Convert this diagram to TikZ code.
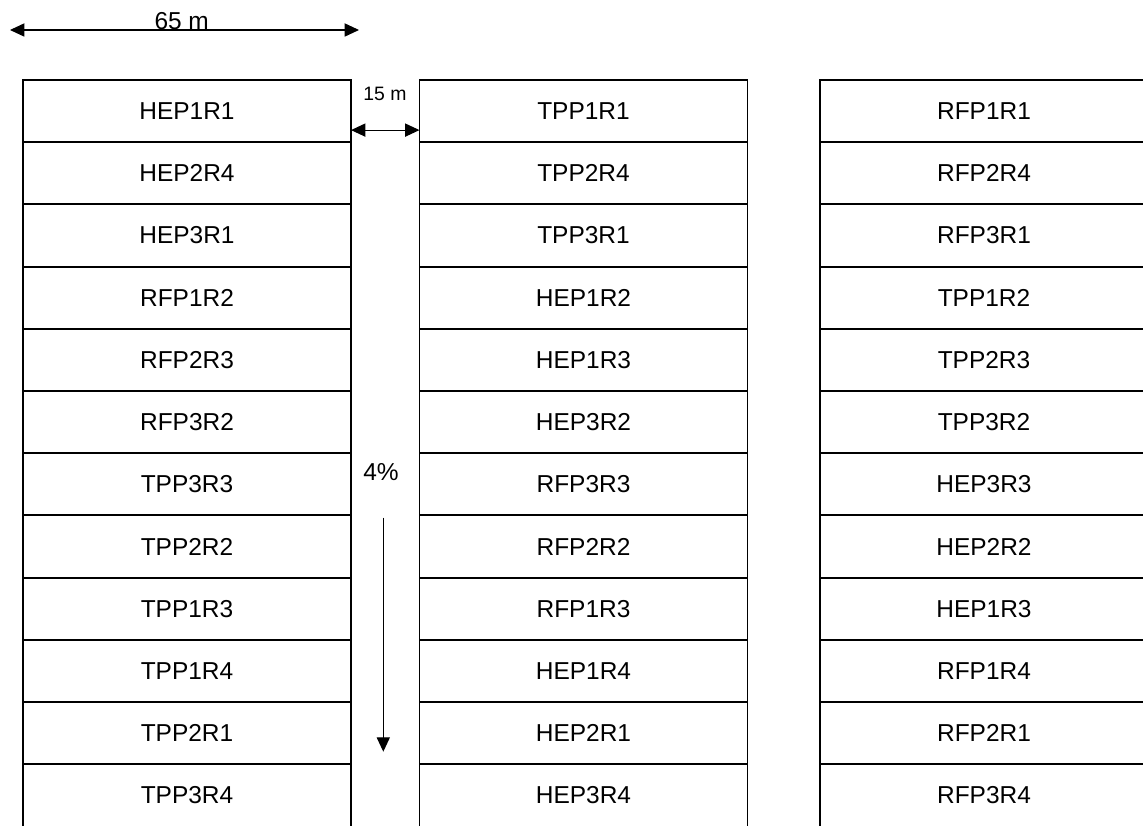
\documentclass[tikz,border=0pt]{standalone}
\usepackage{fontspec}
\setmainfont{Liberation Sans}
\usetikzlibrary{arrows.meta,calc}

\tikzset{
  cell/.style={draw,line width=1.3pt,minimum width=8.2cm,minimum height=1.555cm,inner sep=0pt,outer sep=0pt,font=\fontsize{17.4}{20}\selectfont},
  lbl/.style={inner sep=0pt,font=\fontsize{17.4}{20}\selectfont},
  dim/.style={line width=0.8pt,{Triangle[length=0.36cm,width=0.33cm]}-{Triangle[length=0.36cm,width=0.33cm]}},
  fall/.style={line width=0.8pt,-{Triangle[length=0.36cm,width=0.33cm]}}
}

\begin{document}
\begin{tikzpicture}[x=0.025cm,y=-0.025cm]
\clip (0,0) rectangle (1143,826);

\foreach \name [count=\r] in {HEP1R1,HEP2R4,HEP3R1,RFP1R2,RFP2R3,RFP3R2,TPP3R3,TPP2R2,TPP1R3,TPP1R4,TPP2R1,TPP3R4}
  \node [cell] (a\r) at (187,{48.9+62.2*\r}) {\name};
\foreach \name [count=\r] in {TPP1R1,TPP2R4,TPP3R1,HEP1R2,HEP1R3,HEP3R2,RFP3R3,RFP2R2,RFP1R3,HEP1R4,HEP2R1,HEP3R4}
  \node [cell] (b\r) at (583.5,{48.9+62.2*\r}) {\name};
\foreach \name [count=\r] in {RFP1R1,RFP2R4,RFP3R1,TPP1R2,TPP2R3,TPP3R2,HEP3R3,HEP2R2,HEP1R3,RFP1R4,RFP2R1,RFP3R4}
  \node [cell] (c\r) at (984,{48.9+62.2*\r}) {\name};

\coordinate (w0) at (10,30);
\coordinate (e0) at (359,30);
\draw [dim] (w0) -- (e0);
\node [lbl,anchor=base] (width) at (181.7,30) {65 m};

\draw [dim] ($(a1.east)+(0,19)$) -- ($(b1.west)+(0,19)$);
\node [inner sep=0pt,font=\fontsize{13.8}{16}\selectfont] (gap) at (385,93.5) {15 m};

\node [lbl] (slope) at (381,472) {4\%};
\coordinate (s0) at (383.3,517.7);
\coordinate (s1) at (383.3,751.7);
\draw [fall] (s0) -- (s1);
\end{tikzpicture}
\end{document}
